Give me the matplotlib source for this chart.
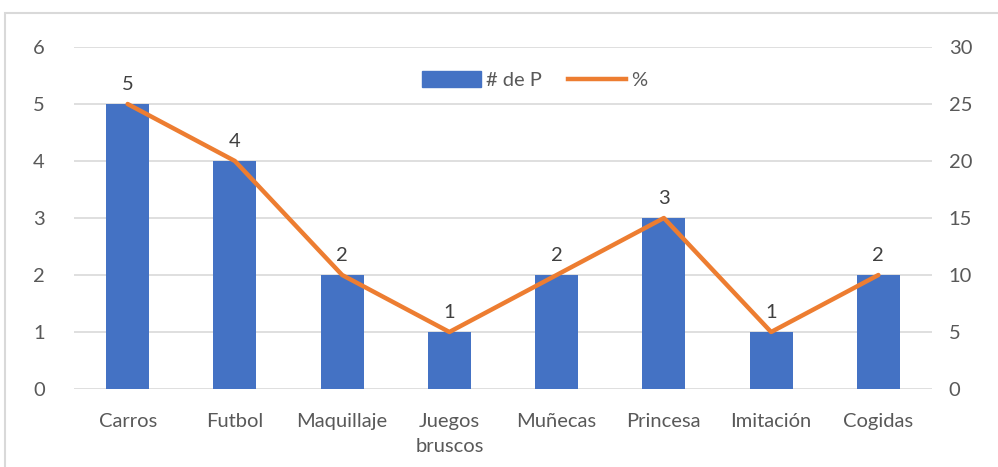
import matplotlib
matplotlib.use("Agg")
import matplotlib.pyplot as plt
from matplotlib.patches import Rectangle
from matplotlib.lines import Line2D
from matplotlib.patches import Patch

categories = ["Carros", "Futbol", "Maquillaje", "Juegos\nbruscos", "Muñecas", "Princesa", "Imitación", "Cogidas"]
counts = [5, 4, 2, 1, 2, 3, 1, 2]
percent = [25, 20, 10, 5, 10, 15, 5, 10]
left_ticks = [0, 1, 2, 3, 4, 5, 6]
right_ticks = [0, 5, 10, 15, 20, 25, 30]

plt.rcParams['font.family'] = ['Lato', 'DejaVu Sans']
txt = '#595959'
bar_c = '#4472C4'
line_c = '#ED7D31'
fs = 14.5

fig = plt.figure(figsize=(9.98, 4.67), dpi=100)
ax = fig.add_axes([74/998, (467-389)/467, (932-74)/998, 342/467])
x = list(range(len(categories)))
ax.bar(x, counts, width=0.4, color=bar_c, zorder=2)
ax.set_xlim(-0.5, len(categories)-0.5)
ax.set_ylim(0, 6)
ax.set_yticks(left_ticks)
ax.set_xticks(x)
ax.set_xticklabels(categories, fontsize=fs, color=txt, linespacing=1.6)
ax.tick_params(axis='both', length=0, labelsize=fs, labelcolor=txt)
ax.tick_params(axis='y', pad=21)
ax.tick_params(axis='x', pad=17)
ax.grid(axis='y', color='#D9D9D9', lw=1.2, zorder=0)
for s in ax.spines.values():
    s.set_visible(False)
for xi, v in zip(x, counts):
    ax.annotate(str(v), (xi, v), xytext=(0, 8), textcoords='offset points',
                ha='center', va='bottom', fontsize=fs, color='#404040')

ax2 = ax.twinx()
ax2.plot(x, percent, color=line_c, lw=3.2, zorder=3, solid_capstyle='round')
ax2.set_ylim(0, 30)
ax2.set_yticks(right_ticks)
ax2.tick_params(axis='y', length=0, labelsize=fs, labelcolor=txt, pad=12)
for s in ax2.spines.values():
    s.set_visible(False)

handles = [Patch(color=bar_c), Line2D([0], [0], color=line_c, lw=3.2)]
fig.legend(handles, ["# de P", "%"], loc='center', bbox_to_anchor=(535/998, 1-80/467),
           ncol=2, frameon=False, fontsize=fs, labelcolor=txt,
           handlelength=2.9, handleheight=0.8, columnspacing=1.3, handletextpad=0.25)

fig.patches.append(Rectangle((5/998, -0.1), 1.1, 1.1 - 13/467,
                             transform=fig.transFigure, fill=False,
                             edgecolor='#D9D9D9', lw=1.5))
fig.savefig("out.png", dpi=100)
